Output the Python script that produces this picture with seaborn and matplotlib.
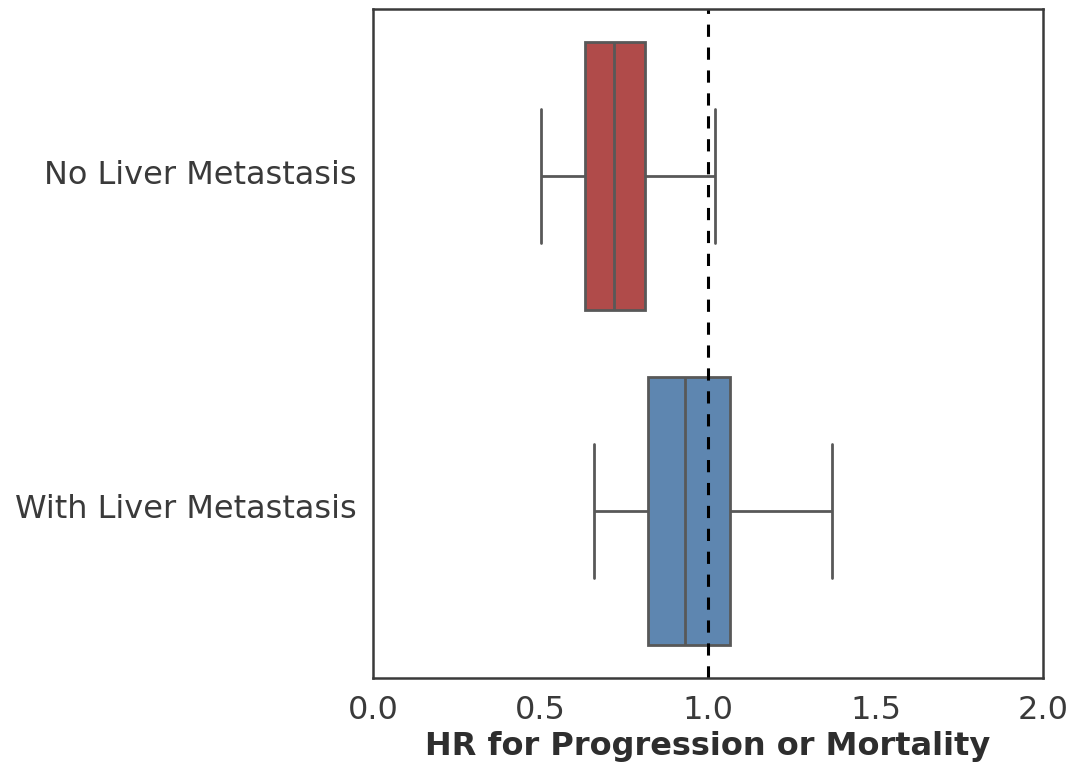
import matplotlib
matplotlib.use("Agg")
import matplotlib.pyplot as plt
import matplotlib.transforms as mtransforms
import seaborn as sns
import pandas as pd

# Data: summary points per group (min, Q1, median, Q3, max)
categories = ["No Liver Metastasis", "With Liver Metastasis"]
no_liver_hr = [0.50, 0.632, 0.718, 0.812, 1.02]
with_liver_hr = [0.658, 0.822, 0.932, 1.064, 1.37]
box_colors = ["#b04b4a", "#5e86b0"]
xticks = [0.0, 0.5, 1.0, 1.5, 2.0]
reference_hr = 1.0

df = pd.DataFrame({
    "group": [categories[0]] * len(no_liver_hr) + [categories[1]] * len(with_liver_hr),
    "HR": no_liver_hr + with_liver_hr,
})

sns.set_theme(style="white")
plt.rcParams["font.family"] = ["DejaVu Sans"]

fig = plt.figure(figsize=(10.69, 7.68), dpi=100)
ax = fig.add_axes([0.349, 0.1172, 0.6268, 0.8711])

sns.boxplot(data=df, x="HR", y="group", hue="group", order=categories,
            palette=box_colors, saturation=1, width=0.8, whis=1.5,
            linecolor="#585858", linewidth=2.0, legend=False, ax=ax)

ax.axvline(reference_hr, color="black", linestyle="--", linewidth=2.2, dashes=(4, 3.5))

ax.set_xlim(0, 2.0)
ax.set_ylim(1.5, -0.5)
ax.set_xticks(xticks)
ax.set_xticklabels([f"{t:.1f}" for t in xticks])
ax.set_ylabel("")
ax.set_xlabel("HR for Progression or Mortality", fontsize=23, fontweight="bold",
              color="#2e2e2e", labelpad=4)
ax.tick_params(axis="both", labelsize=23, colors="#3a3a3a", length=0)
ax.tick_params(axis="y", pad=12)
ax.tick_params(axis="x", pad=12)
offset = mtransforms.ScaledTranslation(0, 0.045, fig.dpi_scale_trans)
for lab in ax.get_yticklabels():
    lab.set_transform(lab.get_transform() + offset)
for s in ax.spines.values():
    s.set_visible(True)
    s.set_color("#3a3a3a")
    s.set_linewidth(1.8)

fig.savefig("out.png", dpi=100)
